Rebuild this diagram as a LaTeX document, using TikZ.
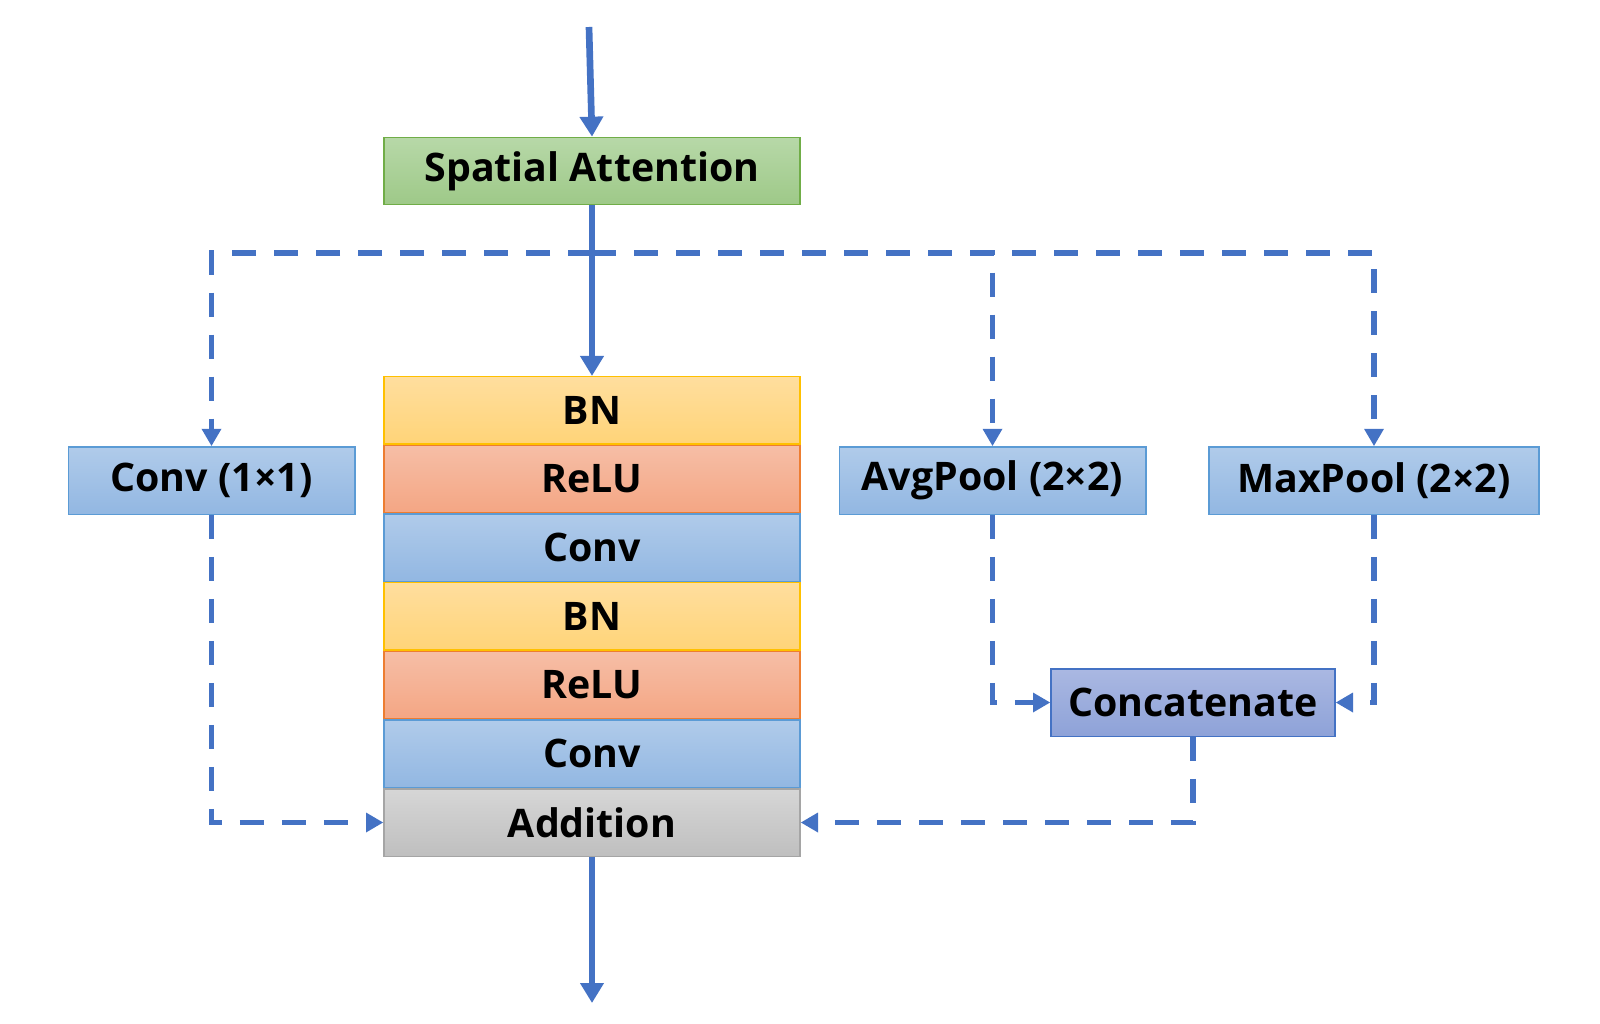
\documentclass[tikz,border=0pt]{standalone}
\usepackage{fontspec}
\setmainfont{Open Sans}
\usetikzlibrary{arrows.meta}
\definecolor{arr}{HTML}{4472C4}
\tikzset{
  box/.style={draw, line width=1pt, minimum height=50.5pt, inner sep=0pt, font=\fontsize{29.5}{32}\selectfont\bfseries, text=black},
  greenbox/.style={box, draw={rgb,255:red,112;green,173;blue,71}, top color={rgb,255:red,183;green,216;blue,168}, bottom color={rgb,255:red,158;green,201;blue,136}},
  yellowbox/.style={box, draw={rgb,255:red,255;green,192;blue,0}, top color={rgb,255:red,255;green,222;blue,158}, bottom color={rgb,255:red,255;green,212;blue,120}},
  orangebox/.style={box, draw={rgb,255:red,237;green,125;blue,49}, top color={rgb,255:red,246;green,190;blue,166}, bottom color={rgb,255:red,244;green,166;blue,132}},
  bluebox/.style={box, draw={rgb,255:red,91;green,155;blue,213}, top color={rgb,255:red,176;green,203;blue,234}, bottom color={rgb,255:red,146;green,183;blue,226}},
  graybox/.style={box, draw={rgb,255:red,165;green,165;blue,165}, top color={rgb,255:red,214;green,214;blue,214}, bottom color={rgb,255:red,191;green,191;blue,191}},
  catbox/.style={box, draw=arr, top color={rgb,255:red,170;green,184;blue,226}, bottom color={rgb,255:red,142;green,162;blue,216}},
  solidarr/.style={draw=arr, line width=5pt, -{Triangle[width=17pt,length=15pt]}},
  dasharr/.style={draw=arr, line width=4.2pt, dash pattern=on 18pt off 13.5pt, -{Triangle[width=14pt,length=13pt]}},
}
\begin{document}
\begin{tikzpicture}[x=0.75pt,y=-0.75pt]
\useasboundingbox (0,0) rectangle (1600,1024);
\node[greenbox, minimum width=312pt] (sa) at (592,171) {Spatial Attention};
\node[yellowbox, minimum width=312pt] (bn1) at (592,410.3) {BN};
\node[orangebox, minimum width=312pt] (relu1) at (592,479) {ReLU};
\node[bluebox, minimum width=312pt] (conv1) at (592,547.7) {Conv};
\node[yellowbox, minimum width=312pt] (bn2) at (592,616.4) {BN};
\node[orangebox, minimum width=312pt] (relu2) at (592,685.1) {ReLU};
\node[bluebox, minimum width=312pt] (conv2) at (592,753.8) {Conv};
\node[graybox, minimum width=312pt] (add) at (592,822.5) {Addition};
\node[bluebox, minimum width=215pt] (c11) at (211.5,480.5) {Conv (1×1)};
\node[bluebox, minimum width=230pt] (avg) at (992.5,480.5) {AvgPool (2×2)};
\node[bluebox, minimum width=247.5pt] (max) at (1374,480.5) {MaxPool (2×2)};
\node[catbox, minimum width=213pt] (cat) at (1193,702.5) {Concatenate};
\coordinate (in) at (589,27);
\coordinate (out) at (592,1003);
\coordinate (split) at (592,253);
\draw[solidarr] (in) -- (sa.north);
\draw[solidarr] (sa.south) -- (bn1.north);
\draw[solidarr] (add.south) -- (out);
\draw[dasharr] (split) -| (c11.north);
\draw[dasharr] (split) -| (avg.north);
\draw[dasharr] (split) -| (max.north);
\draw[dasharr] (c11.south) |- (add.west);
\draw[dasharr] (avg.south) |- (cat.west);
\draw[dasharr] (max.south) |- (cat.east);
\draw[dasharr] (cat.south) |- (add.east);
\end{tikzpicture}
\end{document}
